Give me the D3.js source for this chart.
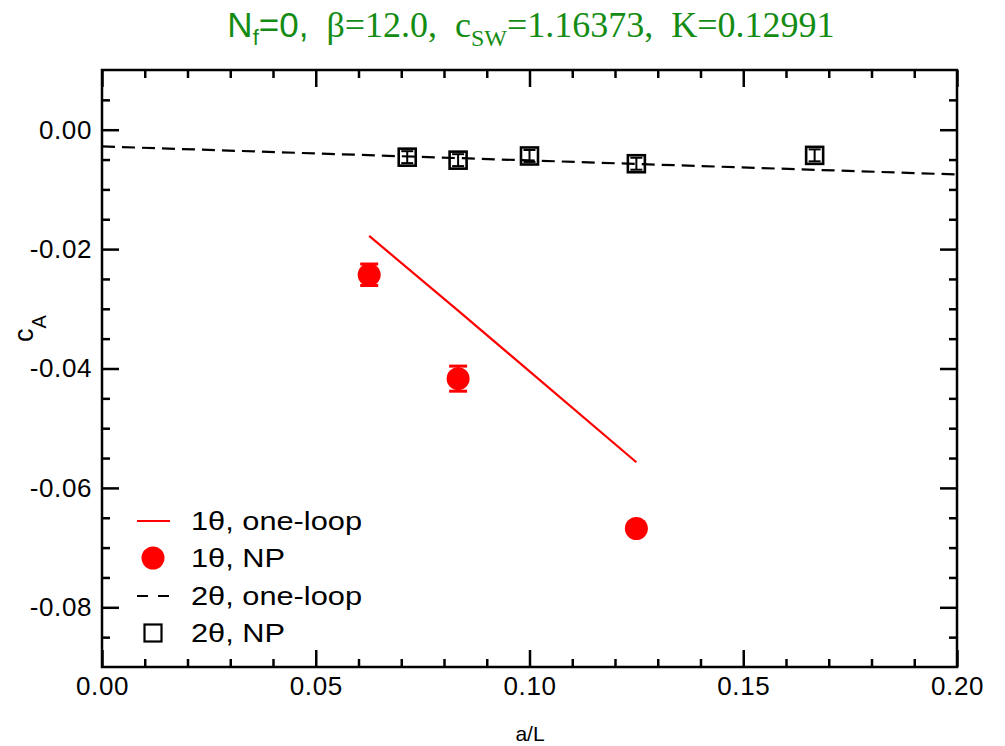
<!DOCTYPE html>
<html>
<head>
<meta charset="utf-8">
<script src="https://cdn.jsdelivr.net/npm/d3@7"></script>
<style>
  html, body { margin: 0; padding: 0; background: #fff; }
  svg { display: block; }
</style>
</head>
<body>
<svg id="chart" width="1005" height="746"></svg>
<script>
// ---- data ----
const xMajorTicks = [0, 0.05, 0.10, 0.15, 0.20];
const xTickLabels = ["0.00", "0.05", "0.10", "0.15", "0.20"];
const yMajorTicks = [0, -0.02, -0.04, -0.06, -0.08];
const yTickLabels = ["0.00", "-0.02", "-0.04", "-0.06", "-0.08"];

const oneLoop1X = [0.0625, 0.0833, 0.125];
const oneLoop1Y = [-0.0178, -0.0303, -0.0557];

const np1X = [0.0625, 0.0833, 0.125];
const np1Y = [-0.0243, -0.0417, -0.0668];
const np1Err = [0.0018, 0.0021, 0.0005];

const oneLoop2X = [0.0, 0.2];
const oneLoop2Y = [-0.0028, -0.0075];

const np2X = [0.0714, 0.0833, 0.1, 0.125, 0.1667];
const np2Y = [-0.0046, -0.0051, -0.0044, -0.0057, -0.0043];
const np2Err = [0.0010, 0.0010, 0.0010, 0.0010, 0.0010];

const legendLabels = ["1\u03b8, one-loop", "1\u03b8, NP", "2\u03b8, one-loop", "2\u03b8, NP"];

// ---- layout ----
const L = 102, R = 957, T = 70, B = 667;
const svg = d3.select("#chart");
const x = d3.scaleLinear().domain([0, 0.2]).range([L, R]);
const y = d3.scaleLinear().domain([-0.09, 0.01]).range([B, T]);

const FONT = "'Liberation Sans', Arial, Helvetica, sans-serif";
const SERIF = "'Liberation Serif', 'Times New Roman', serif";
const AXW = 2.5;

const xMinor = d3.range(0, 0.2001, 0.01).filter(v => !xMajorTicks.some(m => Math.abs(m - v) < 1e-9));
const yMinor = d3.range(-0.09, 0.0101, 0.005).filter(v => !yMajorTicks.some(m => Math.abs(m - v) < 1e-9) && v > -0.0899 && v < 0.0099);

function styleAxis(g) {
  g.select(".domain").remove();
  g.selectAll(".tick line").attr("stroke", "#000").attr("stroke-width", AXW);
  g.selectAll("text").attr("font-family", FONT).attr("font-size", 26).attr("fill", "#000").attr("letter-spacing", 0.6);
}

// bottom
svg.append("g").attr("transform", `translate(0,${B})`)
  .call(d3.axisBottom(x).tickValues(xMajorTicks).tickSize(-17).tickPadding(10)
    .tickFormat((d, i) => xTickLabels[i])).call(styleAxis);
svg.append("g").attr("transform", `translate(0,${B})`)
  .call(d3.axisBottom(x).tickValues(xMinor).tickSize(-8).tickFormat("")).call(styleAxis);
// top
svg.append("g").attr("transform", `translate(0,${T})`)
  .call(d3.axisTop(x).tickValues(xMajorTicks).tickSize(-17).tickFormat("")).call(styleAxis);
svg.append("g").attr("transform", `translate(0,${T})`)
  .call(d3.axisTop(x).tickValues(xMinor).tickSize(-8).tickFormat("")).call(styleAxis);
// left
svg.append("g").attr("transform", `translate(${L},0)`)
  .call(d3.axisLeft(y).tickValues(yMajorTicks).tickSize(-17).tickPadding(10)
    .tickFormat((d, i) => yTickLabels[i])).call(styleAxis);
svg.append("g").attr("transform", `translate(${L},0)`)
  .call(d3.axisLeft(y).tickValues(yMinor).tickSize(-8).tickFormat("")).call(styleAxis);
// right
svg.append("g").attr("transform", `translate(${R},0)`)
  .call(d3.axisRight(y).tickValues(yMajorTicks).tickSize(-17).tickFormat("")).call(styleAxis);
svg.append("g").attr("transform", `translate(${R},0)`)
  .call(d3.axisRight(y).tickValues(yMinor).tickSize(-8).tickFormat("")).call(styleAxis);

// frame
svg.append("rect").attr("x", L).attr("y", T).attr("width", R - L).attr("height", B - T)
  .attr("fill", "none").attr("stroke", "#000").attr("stroke-width", AXW);

// ---- series ----
const line = d3.line().x(d => x(d[0])).y(d => y(d[1]));

// 2theta one-loop dashed
svg.append("path").datum(oneLoop2X.map((v, i) => [v, oneLoop2Y[i]]))
  .attr("d", line).attr("fill", "none").attr("stroke", "#000").attr("stroke-width", 2.2)
  .attr("stroke-dasharray", "13,7");

// 1theta one-loop red line
svg.append("path").datum(oneLoop1X.map((v, i) => [v, oneLoop1Y[i]]))
  .attr("d", line).attr("fill", "none").attr("stroke", "#ff0000").attr("stroke-width", 2.2);

// 1theta NP red circles with error bars
const np1 = np1X.map((v, i) => ({ x: v, y: np1Y[i], e: np1Err[i] }));
const g1 = svg.append("g");
g1.selectAll("line.v").data(np1).join("line")
  .attr("x1", d => x(d.x)).attr("x2", d => x(d.x))
  .attr("y1", d => y(d.y - d.e)).attr("y2", d => y(d.y + d.e))
  .attr("stroke", "#ff0000").attr("stroke-width", 2.5);
g1.selectAll("line.cap1").data(np1).join("line")
  .attr("x1", d => x(d.x) - 9).attr("x2", d => x(d.x) + 9)
  .attr("y1", d => y(d.y + d.e)).attr("y2", d => y(d.y + d.e))
  .attr("stroke", "#ff0000").attr("stroke-width", 3);
g1.selectAll("line.cap2").data(np1).join("line")
  .attr("x1", d => x(d.x) - 9).attr("x2", d => x(d.x) + 9)
  .attr("y1", d => y(d.y - d.e)).attr("y2", d => y(d.y - d.e))
  .attr("stroke", "#ff0000").attr("stroke-width", 3);
g1.selectAll("circle").data(np1).join("circle")
  .attr("cx", d => x(d.x)).attr("cy", d => y(d.y)).attr("r", 11.5).attr("fill", "#ff0000");

// 2theta NP open squares with error bars
const np2 = np2X.map((v, i) => ({ x: v, y: np2Y[i], e: np2Err[i] }));
const g2 = svg.append("g");
const S = 17;
g2.selectAll("rect").data(np2).join("rect")
  .attr("x", d => x(d.x) - S / 2).attr("y", d => y(d.y) - S / 2)
  .attr("width", S).attr("height", S)
  .attr("fill", "none").attr("stroke", "#000").attr("stroke-width", 2.6);
g2.selectAll("line.v").data(np2).join("line")
  .attr("x1", d => x(d.x)).attr("x2", d => x(d.x))
  .attr("y1", d => y(d.y - d.e)).attr("y2", d => y(d.y + d.e))
  .attr("stroke", "#000").attr("stroke-width", 2);
g2.selectAll("line.c1").data(np2).join("line")
  .attr("x1", d => x(d.x) - 6).attr("x2", d => x(d.x) + 6)
  .attr("y1", d => y(d.y + d.e)).attr("y2", d => y(d.y + d.e))
  .attr("stroke", "#000").attr("stroke-width", 2);
g2.selectAll("line.c2").data(np2).join("line")
  .attr("x1", d => x(d.x) - 6).attr("x2", d => x(d.x) + 6)
  .attr("y1", d => y(d.y - d.e)).attr("y2", d => y(d.y - d.e))
  .attr("stroke", "#000").attr("stroke-width", 2);

// ---- legend ----
const lg = svg.append("g");
const rowsY = [521, 558, 596, 633];
lg.append("line").attr("x1", 137).attr("x2", 170).attr("y1", rowsY[0]).attr("y2", rowsY[0])
  .attr("stroke", "#ff0000").attr("stroke-width", 2.2);
lg.append("circle").attr("cx", 153).attr("cy", rowsY[1]).attr("r", 11.5).attr("fill", "#ff0000");
lg.append("line").attr("x1", 137).attr("x2", 170).attr("y1", rowsY[2]).attr("y2", rowsY[2])
  .attr("stroke", "#000").attr("stroke-width", 2.2).attr("stroke-dasharray", "11,10");
lg.append("rect").attr("x", 153 - S / 2).attr("y", rowsY[3] - S / 2).attr("width", S).attr("height", S)
  .attr("fill", "none").attr("stroke", "#000").attr("stroke-width", 2.2);
const legendW = [171, 94, 171, 94];
lg.selectAll("text").data(legendLabels).join("text")
  .attr("x", 191).attr("y", (d, i) => rowsY[i] + 9)
  .attr("font-family", FONT).attr("font-size", 26)
  .attr("textLength", (d, i) => legendW[i]).attr("lengthAdjust", "spacingAndGlyphs")
  .text(d => d);

// ---- axis titles ----
svg.append("text").attr("x", 530).attr("y", 741).attr("text-anchor", "middle")
  .attr("font-family", FONT).attr("font-size", 21).text("a/L");

const yt = svg.append("text").attr("transform", "translate(33,342) rotate(-90)")
  .attr("font-family", FONT);
yt.append("tspan").attr("font-size", 27).text("c");
yt.append("tspan").attr("font-size", 20).attr("dy", 13).text("A");

// ---- title ----
const GREEN = "rgb(20,140,20)";
const t = svg.append("text").attr("x", 531).attr("y", 37).attr("text-anchor", "middle")
  .attr("fill", GREEN).style("white-space", "pre");
t.append("tspan").attr("font-family", FONT).attr("font-size", 35).text("N");
t.append("tspan").attr("font-family", FONT).attr("font-size", 22).attr("dy", 8).text("f");
t.append("tspan").attr("font-family", FONT).attr("font-size", 35).attr("dy", -8).text("=0,");
t.append("tspan").attr("font-family", SERIF).attr("font-size", 36).text("  \u03b2=12.0,  c");
t.append("tspan").attr("font-family", SERIF).attr("font-size", 24).attr("dy", 9).text("SW");
t.append("tspan").attr("font-family", SERIF).attr("font-size", 36).attr("dy", -9).text("=1.16373,  K=0.12991");
</script>
</body>
</html>
